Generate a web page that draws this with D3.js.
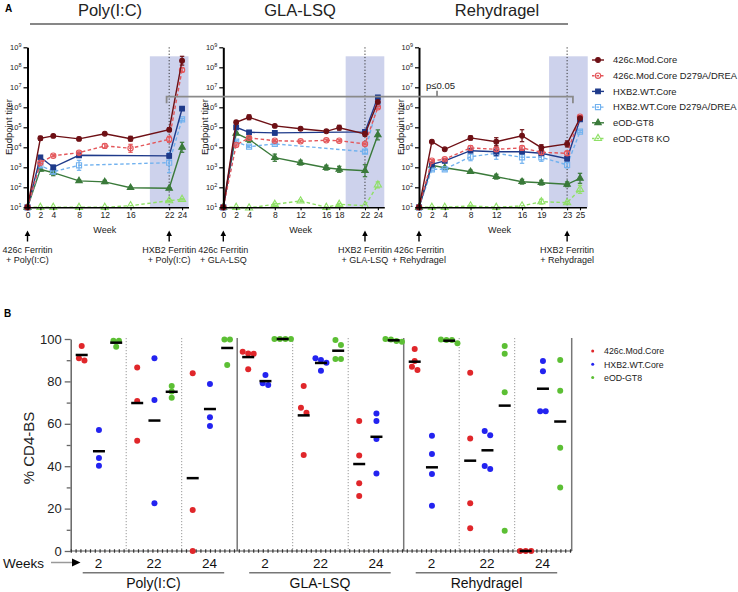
<!DOCTYPE html>
<html><head><meta charset="utf-8">
<script src="https://cdn.jsdelivr.net/npm/d3@7"></script>
<style>body{margin:0;background:#fff}svg{display:block}text{font-family:"Liberation Sans",Arial,sans-serif}</style>
</head><body><svg id="c" width="738" height="592"></svg>
<script>
// ---------------- DATA ----------------
const adjuvants = ["Poly(I:C)", "GLA-LSQ", "Rehydragel"];
const seriesNames = ["426c.Mod.Core", "426c.Mod.Core D279A/DREA", "HXB2.WT.Core", "HXB2.WT.Core D279A/DREA", "eOD-GT8", "eOD-GT8 KO"];
const cd4Series = ["426c.Mod.Core", "HXB2.WT.Core", "eOD-GT8"];
const cd4Weeks = ["2", "22", "24"];

// Panel A: log10 endpoint titer (mean) and log10 error half-width
const polyWeeks = [0, 2, 4, 8, 12, 16, 22, 24];
const polyModCore     = [1, 4.45, 4.57, 4.42, 4.68, 4.43, 4.88, 8.33];
const polyModCoreErr  = [0, 0.10, 0.05, 0.08, 0.05, 0.12, 0.08, 0.22];
const polyModCoreMut  = [1, 3.23, 3.58, 3.73, 4.07, 3.95, 4.40, 7.87];
const polyModCoreMutErr = [0, 0.05, 0.05, 0.08, 0.10, 0.20, 0.15, 0.10];
const polyHXB2        = [1, 3.50, 3.00, 3.60, null, null, 3.57, 5.93];
const polyHXB2Err     = [0, 0.05, 0.10, 0.10, 0, 0, 0.10, 0.05];
const polyHXB2Mut     = [1, 3.10, 2.78, 3.10, null, null, 3.23, 5.40];
const polyHXB2MutErr  = [0, 0.10, 0.10, 0.25, 0, 0, 0.50, 0.05];
const polyGT8         = [1, 2.90, 2.73, 2.32, 2.27, 1.98, 1.95, 4.00];
const polyGT8Err      = [0, 0.08, 0.15, 0.05, 0.08, 0.03, 0.03, 0.25];
const polyGT8KO       = [1, 1, 1, 1, 1, 1.08, 1.33, 1.40];
const polyGT8KOErr    = [0, 0, 0, 0, 0, 0, 0.03, 0.03];

const glaWeeks = [0, 2, 4, 8, 12, 16, 18, 22, 24];
const glaModCore      = [1, 5.25, 5.50, 5.07, 4.93, 4.80, 4.98, 4.67, 6.27];
const glaModCoreErr   = [0, 0.08, 0.12, 0.05, 0.05, 0.05, 0.12, 0.12, 0.05];
const glaModCoreMut   = [1, 4.12, 4.47, 4.33, 4.30, 4.35, 4.33, 4.17, 6.00];
const glaModCoreMutErr= [0, 0.05, 0.05, 0.05, 0.05, 0.05, 0.05, 0.05, 0.05];
const glaHXB2         = [1, 5.00, 4.75, 4.72, null, null, null, 4.77, 6.50];
const glaHXB2Err      = [0, 0.05, 0.05, 0.10, 0, 0, 0, 0.05, 0.03];
const glaHXB2Mut      = [1, 4.28, 4.03, 4.17, null, null, null, 3.78, 6.15];
const glaHXB2MutErr   = [0, 0.05, 0.05, 0.05, 0, 0, 0, 0.08, 0.05];
const glaGT8          = [1, 4.70, 4.40, 3.48, 3.23, 2.98, 2.90, 2.83, 4.62];
const glaGT8Err       = [0, 0.05, 0.15, 0.18, 0.12, 0.12, 0.15, 0.30, 0.25];
const glaGT8KO        = [1, 1, 0.97, 1.15, 1.32, 1.00, 1.15, 1.08, 2.12];
const glaGT8KOErr     = [0, 0, 0, 0.05, 0.05, 0, 0.05, 0, 0.15];

const rehyWeeks = [0, 2, 4, 8, 12, 16, 19, 23, 25];
const rehyModCore     = [1, 4.28, 3.90, 4.47, 4.28, 4.58, 3.98, 4.17, 5.45];
const rehyModCoreErr  = [0, 0.03, 0.03, 0.10, 0.20, 0.30, 0.15, 0.15, 0.05];
const rehyModCoreMut  = [1, 3.33, 3.40, 3.97, 3.90, 3.97, 3.75, 3.70, 5.53];
const rehyModCoreMutErr = [0, 0.05, 0.05, 0.10, 0.10, 0.10, 0.10, 0.10, 0.05];
const rehyHXB2        = [1, 3.15, 3.32, 3.83, 3.78, 3.78, 3.70, 3.43, 5.40];
const rehyHXB2Err     = [0, 0.05, 0.05, 0.05, 0.20, 0.10, 0.10, 0.10, 0.05];
const rehyHXB2Mut     = [1, 2.90, 2.90, 3.53, 3.70, 3.50, 3.50, 3.12, 4.78];
const rehyHXB2MutErr  = [0, 0.05, 0.05, 0.20, 0.30, 0.30, 0.20, 0.15, 0.05];
const rehyGT8         = [1, 3.10, 2.98, 2.78, 2.53, 2.28, 2.23, 2.15, 2.45];
const rehyGT8Err      = [0, 0.03, 0.03, 0.08, 0.12, 0.12, 0.12, 0.12, 0.25];
const rehyGT8KO       = [1, 1, 1, 1.07, 1.00, 1.07, 1.28, 1.23, 1.90];
const rehyGT8KOErr    = [0, 0, 0, 0.03, 0, 0, 0.12, 0.05, 0.20];

// Panel B: % CD4-BS per animal, [week2, week22, week24]
const polyModCoreCD4 = [[96.7, 89.8, 90.9], [86.6, 70.8, 52.0], [83.8, 19.3, 0]];
const polyHXB2CD4    = [[57.1, 43.9, 40.2], [90.9, 71.2, 22.5], [78.8, 63.1, 59.0]];
const polyGT8CD4     = [[99.2, 99.2, 96.4], [77.8, 75.2, 72.3], [99.8, 99.8, 87.7]];
const glaModCoreCD4  = [[93.2, 93.0, 94.0, 85.7], [77.8, 67.6, 65.2, 45.3], [61.3, 45.0, 31.9, 25.9]];
const glaHXB2CD4     = [[83.0, 78.3, 79.1], [90.1, 90.9, 88.8, 85.0], [64.9, 61.3, 52.8, 36.5]];
const glaGT8CD4      = [[100, 100, 100, 100], [99.5, 97.2, 90.6, 90.6], [99.8, 99.0, 100, 98.7]];
const rehyModCoreCD4 = [[95.3, 89.6, 85.4, 86.9], [84.1, 53.1, 22.5, 10.7], [0, 0, 0]];
const rehyHXB2CD4    = [[54.4, 45.8, 36.3, 21.4], [56.6, 54.6, 40.1, 38.7], [89.6, 84.8, 65.9, 65.9]];
const rehyGT8CD4     = [[99.5, 99.5, 99.8, 98.0], [96.7, 93.1, 74.9, 9.6], [90.1, 75.6, 48.7, 29.9]];

// ---------------- STYLE ----------------
const seriesColors = ["#6e1015", "#e4575b", "#1e3a8a", "#72b2ef", "#3a7a3a", "#8fe067"];
const seriesShapes = [d3.symbolCircle, d3.symbolCircle, d3.symbolSquare, d3.symbolSquare, d3.symbolTriangle, d3.symbolTriangle];
const seriesSizes = [18, 22, 22, 26, 18, 22];
const seriesOpen = [false, true, false, true, false, true];
const cd4Colors = ["#e0262a", "#2323f0", "#5cbf34"];

const svg = d3.select("#c");

// ---------------- PANEL A ----------------
svg.append("text").attr("x", 5).attr("y", 12).attr("font-size", 10).attr("font-weight", "bold").text("A");

const panels = [
  { title: adjuvants[0], weeks: polyWeeks, x0: 27.5, xmax: 25, boost: 22, shade: [19, 25], cx: 110,
    vals: [polyModCore, polyModCoreMut, polyHXB2, polyHXB2Mut, polyGT8, polyGT8KO],
    errs: [polyModCoreErr, polyModCoreMutErr, polyHXB2Err, polyHXB2MutErr, polyGT8Err, polyGT8KOErr],
    notes: [["426c Ferritin", "+ Poly(I:C)"], ["HXB2 Ferritin", "+ Poly(I:C)"]] },
  { title: adjuvants[1], weeks: glaWeeks, x0: 223.3, xmax: 25, boost: 22, shade: [19, 25], cx: 300,
    vals: [glaModCore, glaModCoreMut, glaHXB2, glaHXB2Mut, glaGT8, glaGT8KO],
    errs: [glaModCoreErr, glaModCoreMutErr, glaHXB2Err, glaHXB2MutErr, glaGT8Err, glaGT8KOErr],
    notes: [["426c Ferritin", "+ GLA-LSQ"], ["HXB2 Ferritin", "+ GLA-LSQ"]] },
  { title: adjuvants[2], weeks: rehyWeeks, x0: 419, xmax: 26, boost: 23, shade: [20.2, 26.2], cx: 497,
    vals: [rehyModCore, rehyModCoreMut, rehyHXB2, rehyHXB2Mut, rehyGT8, rehyGT8KO],
    errs: [rehyModCoreErr, rehyModCoreMutErr, rehyHXB2Err, rehyHXB2MutErr, rehyGT8Err, rehyGT8KOErr],
    notes: [["426c Ferritin", "+ Rehydragel"], ["HXB2 Ferritin", "+ Rehydragel"]] }
];
const pxPerWeek = 6.44;
const yA = d3.scaleLog().domain([10, 1e9]).range([207.3, 47.3]);

// title underline
svg.append("line").attr("x1", 30).attr("x2", 568).attr("y1", 24).attr("y2", 24).attr("stroke", "#111").attr("stroke-width", 1.2);

panels.forEach((p, pi) => {
  const x = d3.scaleLinear().domain([0, p.xmax]).range([p.x0, p.x0 + p.xmax * pxPerWeek]);
  p.x = x;
  const g = svg.append("g");
  svg.append("text").attr("x", p.cx).attr("y", 16).attr("text-anchor", "middle")
    .attr("font-family", "Lato, 'Open Sans', sans-serif").attr("font-size", 16.5).attr("fill", "#222").text(p.title);
  g.append("rect").attr("x", x(p.shade[0])).attr("width", x(p.shade[1]) - x(p.shade[0]))
    .attr("y", yA(Math.pow(10, 8.55))).attr("height", yA(10) - yA(Math.pow(10, 8.55)))
    .attr("fill", "#cdd2ec");
  g.append("line").attr("x1", x(p.boost)).attr("x2", x(p.boost)).attr("y1", yA(1e9)).attr("y2", yA(10))
    .attr("stroke", "#333").attr("stroke-width", 1).attr("stroke-dasharray", "1.2,2");
  for (let si = 5; si >= 0; si--) {
    const pts = p.weeks.map((w, i) => ({ w, v: p.vals[si][i], e: p.errs[si][i] })).filter(d => d.v !== null);
    const col = seriesColors[si];
    const sg = g.append("g");
    sg.append("path").datum(pts).attr("fill", "none").attr("stroke", col).attr("stroke-width", 1.4)
      .attr("stroke-dasharray", seriesOpen[si] ? "3.5,2.5" : null)
      .attr("d", d3.line().x(d => x(d.w)).y(d => yA(Math.pow(10, d.v))));
    const eb = sg.selectAll("g.eb").data(pts.filter(d => d.e > 0)).join("g");
    eb.append("line").attr("x1", d => x(d.w)).attr("x2", d => x(d.w))
      .attr("y1", d => yA(Math.pow(10, d.v - d.e))).attr("y2", d => yA(Math.pow(10, d.v + d.e)))
      .attr("stroke", col).attr("stroke-width", 1.2);
    [-1, 1].forEach(s => eb.append("line").attr("x1", d => x(d.w) - 2.2).attr("x2", d => x(d.w) + 2.2)
      .attr("y1", d => yA(Math.pow(10, d.v + s * d.e))).attr("y2", d => yA(Math.pow(10, d.v + s * d.e)))
      .attr("stroke", col).attr("stroke-width", 1.2));
    sg.selectAll("path.m").data(pts).join("path")
      .attr("transform", d => `translate(${x(d.w)},${yA(Math.pow(10, d.v))})`)
      .attr("d", d3.symbol().type(seriesShapes[si]).size(seriesSizes[si]))
      .attr("fill", seriesOpen[si] ? "none" : col).attr("stroke", col).attr("stroke-width", 1.1);
  }
  const ya = g.append("g").attr("transform", `translate(${p.x0},0)`)
    .call(d3.axisLeft(yA).tickValues(d3.range(1, 10).map(k => Math.pow(10, k))).tickSize(4).tickSizeOuter(0));
  ya.select(".domain").attr("stroke-width", 2);
  ya.selectAll(".tick line").attr("stroke-width", 1.2);
  ya.selectAll(".tick text").attr("font-size", 7.5).attr("x", -6).attr("fill", "#222").text(null)
    .each(function (d) {
      const t = d3.select(this);
      t.append("tspan").text("10");
      t.append("tspan").attr("dy", -3.5).attr("font-size", 5.5).text(Math.round(Math.log10(d)));
    });
  const xa = g.append("g").attr("transform", `translate(0,${yA(10)})`)
    .call(d3.axisBottom(x).tickValues(p.weeks).tickSize(3).tickSizeOuter(0));
  xa.select(".domain").attr("stroke-width", 1.5);
  xa.selectAll(".tick text").attr("font-size", 8.5).attr("y", 5).attr("fill", "#222");
  xa.selectAll(".tick line").attr("stroke-width", 1.1);
  g.append("text").attr("x", x(p.weeks[p.weeks.length - 1] / 2)).attr("y", 232.5).attr("text-anchor", "middle")
    .attr("font-size", 9).attr("fill", "#222").text("Week");
  g.append("text").attr("transform", `translate(${p.x0 - 15.5},127) rotate(-90)`).attr("text-anchor", "middle")
    .attr("font-size", 9.5).attr("fill", "#222").text("Endpoint titer");
  [0, p.boost].forEach((w, k) => {
    const ax = x(w);
    g.append("line").attr("x1", ax).attr("x2", ax).attr("y1", 241.5).attr("y2", 235).attr("stroke", "#000").attr("stroke-width", 1.4);
    g.append("path").attr("d", `M${ax - 2.8},${236} L${ax},${230.5} L${ax + 2.8},${236} Z`).attr("fill", "#000");
    p.notes[k].forEach((ln, li) => g.append("text").attr("x", ax).attr("y", 253 + li * 9.6)
      .attr("text-anchor", "middle").attr("font-size", 9).attr("fill", "#222").text(ln));
  });
});

// significance bracket
{
  const yb = yA(Math.pow(10, 6.53));
  const xl = panels[0].x(21.6), xr = panels[2].x(23.9);
  const bg = svg.append("g").attr("stroke", "#8a8a8a").attr("stroke-width", 1.8).attr("fill", "none");
  bg.append("path").attr("d", `M${xl},${yb + 6.5} V${yb} H${xr} V${yb + 6.5}`);
  const xm = panels[2].x(2.8);
  bg.append("line").attr("x1", xm).attr("x2", xm).attr("y1", yb).attr("y2", yb - 6);
  svg.append("text").attr("x", panels[2].x(1.1)).attr("y", yb - 8).attr("font-size", 9.5).attr("fill", "#222").text("p≤0.05");
}

// legend A
seriesNames.forEach((n, si) => {
  const ly = 60 + si * 15.7;
  const col = seriesColors[si];
  svg.append("line").attr("x1", 592).attr("x2", 604).attr("y1", ly).attr("y2", ly).attr("stroke", col)
    .attr("stroke-width", 1.4).attr("stroke-dasharray", seriesOpen[si] ? "2.5,2" : null);
  svg.append("path").attr("transform", `translate(598,${ly})`)
    .attr("d", d3.symbol().type(seriesShapes[si]).size(seriesSizes[si]))
    .attr("fill", seriesOpen[si] ? "none" : col).attr("stroke", col).attr("stroke-width", 1.1);
  svg.append("text").attr("x", 613).attr("y", ly + 3.3).attr("font-size", 9.4).attr("fill", "#222").text(n);
});

// ---------------- PANEL B ----------------
svg.append("text").attr("x", 4).attr("y", 317).attr("font-size", 10).attr("font-weight", "bold").text("B");
const cd4Data = [
  [polyModCoreCD4, polyHXB2CD4, polyGT8CD4],
  [glaModCoreCD4, glaHXB2CD4, glaGT8CD4],
  [rehyModCoreCD4, rehyHXB2CD4, rehyGT8CD4]
];
const yB = d3.scaleLinear().domain([0, 100]).range([551, 339]);
const nSlots = adjuvants.length * cd4Weeks.length;
const slotX = d3.scaleBand().domain(d3.range(nSlots)).range([70.7, 570.2]).paddingInner(0).paddingOuter(0);
const colX = d3.scalePoint().domain(d3.range(cd4Series.length)).range([11, 45.5]);
const gB = svg.append("g");

d3.range(1, nSlots + 1).forEach(k => {
  const xx = k === nSlots ? 571.7 : slotX(k);
  const solid = k % cd4Weeks.length === 0;
  gB.append("line").attr("x1", xx).attr("x2", xx).attr("y1", yB(100) - 1).attr("y2", yB(0))
    .attr("stroke", solid ? "#777" : "#999").attr("stroke-width", solid ? 1.5 : 1)
    .attr("stroke-dasharray", solid ? null : "1.2,1.8");
});

const yaB = gB.append("g").attr("transform", "translate(70.7,0)")
  .call(d3.axisLeft(yB).tickValues([0, 20, 40, 60, 80, 100]).tickSize(6).tickSizeOuter(0));
yaB.select(".domain").attr("stroke", "#666").attr("stroke-width", 1.5);
yaB.selectAll(".tick line").attr("stroke", "#666").attr("stroke-width", 1.3);
yaB.selectAll(".tick text").attr("font-size", 13).attr("x", -9).attr("fill", "#222");
const ymB = gB.append("g").attr("transform", "translate(70.7,0)")
  .call(d3.axisLeft(yB).tickValues([10, 30, 50, 70, 90]).tickSize(4).tickFormat(""));
ymB.select(".domain").remove();
ymB.selectAll(".tick line").attr("stroke", "#666").attr("stroke-width", 1.3);
gB.append("text").attr("transform", "translate(34,448) rotate(-90)").attr("text-anchor", "middle")
  .attr("font-size", 15).attr("fill", "#222").text("% CD4-BS");

gB.append("line").attr("x1", 70.7).attr("x2", 571.7).attr("y1", yB(0)).attr("y2", yB(0)).attr("stroke", "#555").attr("stroke-width", 1);
gB.append("line").attr("x1", 70.7).attr("x2", 571.7).attr("y1", yB(0)).attr("y2", yB(0)).attr("stroke", "#333")
  .attr("stroke-width", 3.5).attr("stroke-dasharray", "1.2,3.6");

function swarm(values, cx) {
  const pts = values.map(v => ({ v, y: yB(v) })).sort((a, b) => a.y - b.y);
  const clusters = []; let cur = [];
  pts.forEach(pt => {
    if (cur.length && pt.y - cur[cur.length - 1].y > 5.5) { clusters.push(cur); cur = []; }
    cur.push(pt);
  });
  if (cur.length) clusters.push(cur);
  clusters.forEach(c => c.forEach((pt, i) => pt.x = cx + (i - (c.length - 1) / 2) * 5.5));
  return pts;
}
cd4Data.forEach((grp, gi) => {
  grp.forEach((ser, si) => {
    ser.forEach((vals, wi) => {
      const k = gi * cd4Weeks.length + wi;
      const cx = slotX(k) + colX(si);
      const pts = swarm(vals, cx);
      gB.selectAll(null).data(pts).join("circle").attr("cx", d => d.x).attr("cy", d => d.y).attr("r", 3)
        .attr("fill", cd4Colors[si]);
      const m = d3.mean(vals);
      gB.append("line").attr("x1", cx - 6).attr("x2", cx + 6).attr("y1", yB(m)).attr("y2", yB(m))
        .attr("stroke", "#000").attr("stroke-width", 2.5);
    });
  });
});

d3.range(nSlots).forEach(k => {
  gB.append("text").attr("x", slotX(k) + slotX.bandwidth() / 2).attr("y", 567.5).attr("text-anchor", "middle")
    .attr("font-size", 13.5).attr("fill", "#111").text(cd4Weeks[k % cd4Weeks.length]);
});
adjuvants.forEach((a, gi) => {
  const xs = slotX(gi * 3) + 12, xe = slotX(gi * 3) + 3 * slotX.bandwidth() - 13;
  gB.append("line").attr("x1", xs).attr("x2", xe).attr("y1", 572.7).attr("y2", 572.7).attr("stroke", "#777").attr("stroke-width", 1.5);
  gB.append("text").attr("x", (xs + xe) / 2).attr("y", 588).attr("text-anchor", "middle")
    .attr("font-size", 14).attr("fill", "#111").text(a);
});
gB.append("text").attr("x", 3).attr("y", 567.5).attr("font-size", 13.5).attr("fill", "#111").text("Weeks");
gB.append("line").attr("x1", 51).attr("x2", 73).attr("y1", 562.5).attr("y2", 562.5).attr("stroke", "#999").attr("stroke-width", 1.5);
gB.append("path").attr("d", "M72,558.5 L80.5,562.5 L72,566.5 Z").attr("fill", "#000");

cd4Series.forEach((n, si) => {
  const ly = 351 + si * 13.3;
  svg.append("circle").attr("cx", 592.7).attr("cy", ly).attr("r", 1.5).attr("fill", cd4Colors[si]);
  svg.append("text").attr("x", 604).attr("y", ly + 3.2).attr("font-size", 8.8).attr("fill", "#222").text(n);
});
</script></body></html>
